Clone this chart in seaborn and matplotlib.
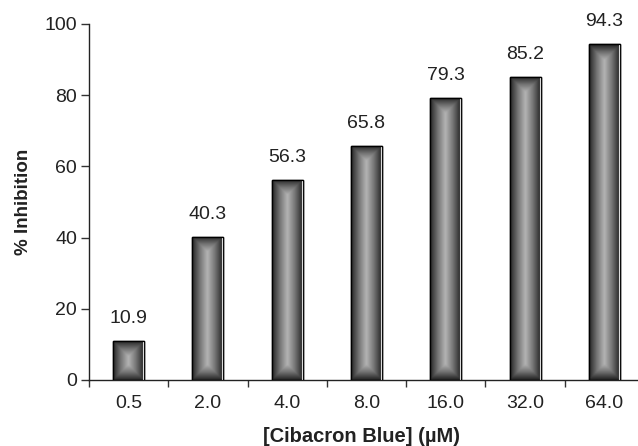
import numpy as np
import pandas as pd
import matplotlib
matplotlib.use('Agg')
import matplotlib.pyplot as plt
import seaborn as sns
from matplotlib.colors import LinearSegmentedColormap

# Data
concentrations = ['0.5', '2.0', '4.0', '8.0', '16.0', '32.0', '64.0']
inhibition = [10.9, 40.3, 56.3, 65.8, 79.3, 85.2, 94.3]

df = pd.DataFrame({'conc': concentrations, 'inhib': inhibition})

sns.set_style('white')
plt.rcParams['font.family'] = ['Liberation Sans', 'DejaVu Sans']

fig = plt.figure(figsize=(6.38, 4.46), dpi=100)
ax = fig.add_axes([89 / 638, 66 / 446, 555 / 638, 356 / 446])

bar_w = 0.39
sns.barplot(data=df, x='conc', y='inhib', ax=ax, width=bar_w,
            color='#555555', edgecolor='black', linewidth=1.0, zorder=3)

# rectangular "from centre" grey gradient inside each bar
cmap = LinearSegmentedColormap.from_list('bevel', ['#b4b4b4', '#747474', '#262626'])
for patch in ax.patches:
    x0, y0 = patch.get_x(), patch.get_y()
    w, h = patch.get_width(), patch.get_height()
    ny, nx = 200, 60
    u = np.linspace(-1, 1, nx)[None, :]
    v = np.linspace(-1, 1, ny)[:, None]
    px_w = w * 79.3
    px_h = h * 3.56
    # distance to the nearest edge in pixels, normalised by half-width
    dx = (1 - np.abs(u)) * px_w / 2
    dy = (1 - np.abs(v)) * px_h / 2
    d = np.minimum(dx, dy) / (px_w / 2)
    val = 1 - np.clip(d, 0, 1)
    im = ax.imshow(val, cmap=cmap, vmin=0, vmax=1, aspect='auto',
                   extent=(x0, x0 + w, y0, y0 + h), origin='lower', zorder=3.5,
                   interpolation='bilinear')
    im.set_clip_path(patch)
    ax.add_patch(plt.Rectangle((x0, y0), w, h, fill=False, edgecolor='black',
                               linewidth=1.0, zorder=4))
    ax.plot([x0 + w - 0.012, x0 + w - 0.012], [y0 + 0.3, y0 + h - 0.3],
            color='#dddddd', linewidth=0.8, zorder=4.5)

for i, val in enumerate(inhibition):
    ax.annotate(f'{val:.1f}', (i, val), xytext=(0, 10), textcoords='offset points',
                ha='center', va='bottom', fontsize=14, color='#222222')

ax.set_xlim(-0.5, len(concentrations) - 0.5)
ax.set_ylim(0, 100)
ax.set_yticks(np.arange(0, 101, 20))
ax.set_xticks(np.arange(len(concentrations)))
ax.set_xticks(np.arange(len(concentrations) + 1) - 0.5, minor=True)
ax.tick_params(axis='x', which='major', length=0, pad=10.5, labelsize=14, labelcolor='#222222')
ax.tick_params(axis='x', which='minor', length=5, width=1, direction='out', bottom=True, color='#333333')
ax.tick_params(axis='y', length=5.5, width=1, direction='out', left=True, labelsize=14,
               labelcolor='#222222', pad=3, color='#333333')

for side in ['top', 'right']:
    ax.spines[side].set_visible(False)
for side in ['left', 'bottom']:
    ax.spines[side].set_color('#222222')
    ax.spines[side].set_linewidth(1.0)

ax.set_xlabel('[Cibacron Blue] (µM)', fontsize=14.5, fontweight='bold', color='#222222')
ax.set_ylabel('% Inhibition', fontsize=13.5, fontweight='bold', color='#222222')
ax.xaxis.set_label_coords((361 - 89) / 555, -(427 - 380) / 356)
ax.yaxis.set_label_coords(-(89 - 32) / 555, 0.5)

fig.savefig('out.png', dpi=100)
